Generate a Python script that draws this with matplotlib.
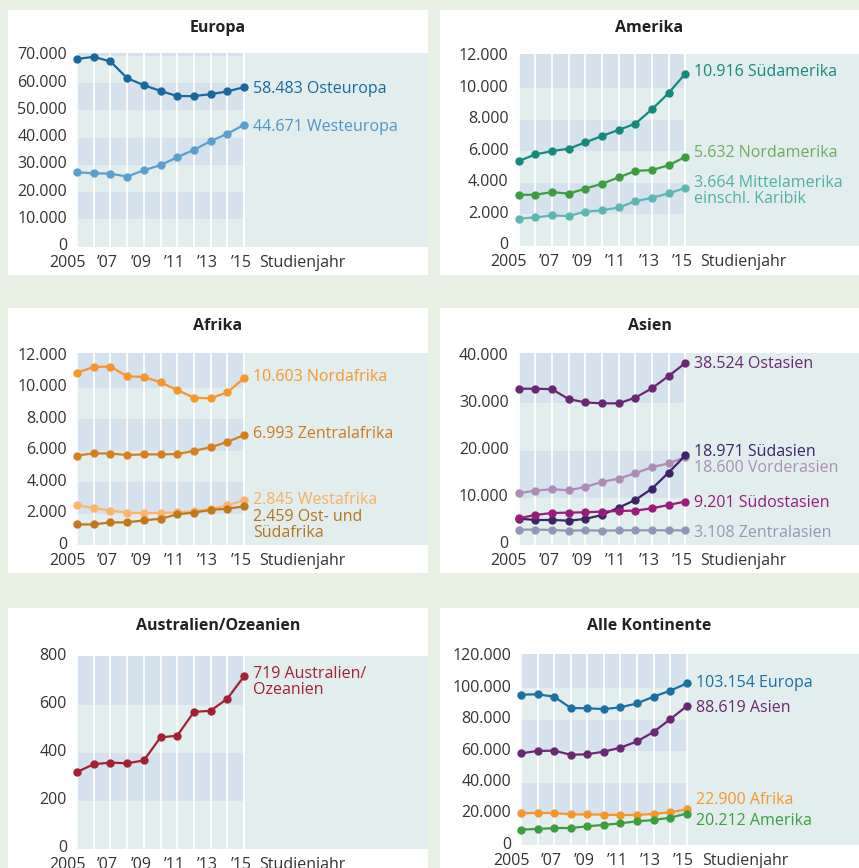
import matplotlib
matplotlib.use("Agg")
import matplotlib.pyplot as plt
from matplotlib.patches import Rectangle

plt.rcParams["font.family"] = ["Open Sans", "DejaVu Sans"]

# ---- data -----------------------------------------------------------------
years = list(range(2005, 2016))
year_ticks = [2005, 2007, 2009, 2011, 2013, 2015]
year_labels = ["2005", "\u201907", "\u201909", "\u201911", "\u201913", "\u201915"]

osteuropa = [68800, 69600, 67900, 61800, 59200, 57100, 55200, 55200, 55900, 56900, 58483]
westeuropa = [27300, 26900, 26800, 25700, 28000, 29900, 32800, 35500, 38700, 41400, 44671]

suedamerika = [5370, 5790, 6000, 6150, 6550, 6960, 7340, 7740, 8650, 9680, 10916]
nordamerika = [3230, 3230, 3400, 3300, 3620, 3930, 4330, 4740, 4800, 5100, 5632]
mittelamerika = [1710, 1800, 1920, 1880, 2160, 2240, 2430, 2810, 3040, 3320, 3664]

nordafrika = [10960, 11320, 11350, 10730, 10690, 10350, 9860, 9370, 9330, 9710, 10603]
zentralafrika = [5690, 5840, 5820, 5730, 5770, 5770, 5790, 5990, 6220, 6560, 6993]
westafrika = [2530, 2360, 2190, 2070, 2040, 2040, 2090, 2150, 2300, 2530, 2845]
ostsuedafrika = [1320, 1320, 1450, 1450, 1580, 1680, 1960, 2070, 2240, 2320, 2459]

ostasien = [33100, 33100, 33000, 30900, 30200, 30000, 30000, 31200, 33200, 35800, 38524]
vorderasien = [10950, 11520, 11800, 11590, 12300, 13360, 14060, 15190, 16470, 17310, 18600]
suedasien = [5580, 5300, 5300, 5160, 5510, 6360, 7920, 9540, 11940, 15340, 18971]
suedostasien = [5650, 6360, 6780, 6860, 6930, 7070, 7210, 7280, 7770, 8480, 9201]
zentralasien = [3250, 3250, 3180, 3040, 3110, 3040, 3110, 3110, 3110, 3110, 3108]

australien = [321, 353, 360, 357, 369, 465, 472, 571, 576, 626, 719]

alle_europa = [96000, 96200, 94700, 87500, 87300, 86800, 87900, 90400, 94700, 98500, 103154]
alle_asien = [58600, 60100, 60300, 57700, 58000, 59700, 62200, 66200, 72200, 80300, 88619]
alle_afrika = [20400, 20600, 20600, 19700, 19700, 19500, 19300, 19300, 20000, 21000, 22900]
alle_amerika = [10000, 10400, 11000, 11000, 12100, 13000, 14000, 15300, 16100, 17600, 20212]

# ---- style ----------------------------------------------------------------
W, H = 859, 868
FS = 11.5
LINE_PX = 16  # spacing of wrapped label lines
OUTER = "#e7f0e3"
TEAL = "#e2eeed"
BAND = "#d6e1ee"
TICK_COLOR = "#333333"

# (title, panel box px, plot box px (left, top, x of 2015, y of zero), ymax, step, series)
# series: (name, values, line colour, text colour, label dy px)
panels = [
    ("Europa", (8, 10, 428, 275), (76, 53, 244, 246.7), 71000, 10000, [
        ("Osteuropa", osteuropa, "#19699e", "#19699e", 0),
        ("Westeuropa", westeuropa, "#5b9fcf", "#4e95c6", 0),
    ]),
    ("Amerika", (440, 10, 859, 275), (517.7, 54.3, 685.3, 245.7), 12140, 2000, [
        ("Südamerika", suedamerika, "#138a7c", "#138a7c", -3),
        ("Nordamerika", nordamerika, "#3c9e40", "#6aad5e", -6),
        ("Mittelamerika\neinschl. Karibik", mittelamerika, "#5bb8b0", "#4fb0a8", -7),
    ]),
    ("Afrika", (8, 308, 428, 573), (76, 353.3, 244, 545.2), 12190, 2000, [
        ("Nordafrika", nordafrika, "#f7962a", "#f7962a", -3),
        ("Zentralafrika", zentralafrika, "#d5801f", "#d07a1c", -3),
        ("Westafrika", westafrika, "#fbb46a", "#fbae5e", -2),
        ("Ost- und\nSüdafrika", ostsuedafrika, "#c0781a", "#b8731a", 9),
    ]),
    ("Asien", (440, 308, 859, 573), (517.7, 353.3, 685.3, 545), 40600, 10000, [
        ("Ostasien", ostasien, "#6b2872", "#6b2872", -1),
        ("Vorderasien", vorderasien, "#ad8db4", "#ad8db4", 9),
        ("Südasien", suedasien, "#3b2468", "#3b2468", -5),
        ("Südostasien", suedostasien, "#9b1b7c", "#9b1b7c", 0),
        ("Zentralasien", zentralasien, "#9496b8", "#9496b8", 1),
    ]),
    ("Australien/Ozeanien", (8, 608, 428, 868), (76, 656, 244, 849), 804, 200, [
        ("Australien/\nOzeanien", australien, "#a32035", "#a32035", -4),
    ]),
    ("Alle Kontinente", (440, 608, 859, 868), (520, 654.3, 686.7, 845.3), 121700, 20000, [
        ("Europa", alle_europa, "#1a6fa3", "#1a6fa3", -2),
        ("Asien", alle_asien, "#6b2872", "#6b2872", 0),
        ("Afrika", alle_afrika, "#f7962a", "#f7962a", -11),
        ("Amerika", alle_amerika, "#3c9e40", "#3c9e40", 6),
    ]),
]


def fmt(v):
    return f"{v:,}".replace(",", ".")


def fig_rect(x0, y0, x1, y1):
    return [x0 / W, 1 - y1 / H, (x1 - x0) / W, (y1 - y0) / H]


fig = plt.figure(figsize=(W / 100, H / 100), dpi=100)
fig.patch.set_facecolor(OUTER)

for title, box, plot, ymax, step, series in panels:
    bx0, by0, bx1, by1 = box
    fig.add_artist(Rectangle((bx0 / W, 1 - by1 / H), (bx1 - bx0) / W, (by1 - by0) / H,
                             transform=fig.transFigure, facecolor="white",
                             edgecolor="none", zorder=0))
    fig.text((bx0 + bx1) / 2 / W, 1 - (by0 + 18) / H, title, ha="center", va="center",
             fontsize=FS, fontweight="bold", color="#222222")

    left, top, x15, zero = plot
    ax = fig.add_axes(fig_rect(left, top, bx1, zero))
    ax.set_facecolor(TEAL)
    ppy = (x15 - left - 1) / 10
    x_lo = 2005 - 1 / ppy
    ax.set_xlim(x_lo, 2005 + (bx1 - left - 1) / ppy)
    ax.set_ylim(0, ymax)
    for s in ax.spines.values():
        s.set_visible(False)
    ax.set_xticks([])
    ax.set_yticks([])

    # alternating horizontal bands, only over the data years
    ticks = list(range(0, int(ymax) + 1, step))
    for k, lo in enumerate(ticks):
        if k % 2 == 1:
            hi = ymax if k >= len(ticks) - 2 and lo + step >= ticks[-1] else lo + step
            ax.fill_between([x_lo, 2015], lo, min(hi, ymax), color=BAND, lw=0, zorder=1)
    ax.vlines(years, 0, ymax, color="white", lw=1.3, zorder=2)

    yt = ax.get_yaxis_transform()
    for t in ticks:
        ax.annotate(fmt(t), xy=(0, t), xycoords=yt, xytext=(-9, 2.5),
                    textcoords="offset pixels", ha="right", va="center_baseline",
                    fontsize=FS, color=TICK_COLOR, annotation_clip=False)

    xt = ax.get_xaxis_transform()
    for yr, lab in zip(year_ticks, year_labels):
        dx = -10 if yr == 2005 else -3
        ax.annotate(lab, xy=(yr, 0), xycoords=xt, xytext=(dx, -20),
                    textcoords="offset pixels", ha="center", va="baseline",
                    fontsize=FS, color=TICK_COLOR, annotation_clip=False)
    ax.annotate("Studienjahr", xy=(2015, 0), xycoords=xt, xytext=(15, -20),
                textcoords="offset pixels", ha="left", va="baseline",
                fontsize=FS, color=TICK_COLOR, annotation_clip=False)

    for name, vals, lc, tc, dy in series:
        ax.plot(years, vals, color=lc, lw=1.6, marker="o", markersize=5,
                zorder=3, clip_on=False)
        extra = name.count("\n") * LINE_PX
        ax.annotate(f"{fmt(vals[-1])} {name}", xy=(years[-1], vals[-1]),
                    xytext=(9, -dy - 5.8 - extra), textcoords="offset pixels",
                    ha="left", va="baseline", fontsize=FS, color=tc,
                    linespacing=1.0, zorder=4)

fig.savefig("out.png", dpi=100, facecolor=OUTER)
